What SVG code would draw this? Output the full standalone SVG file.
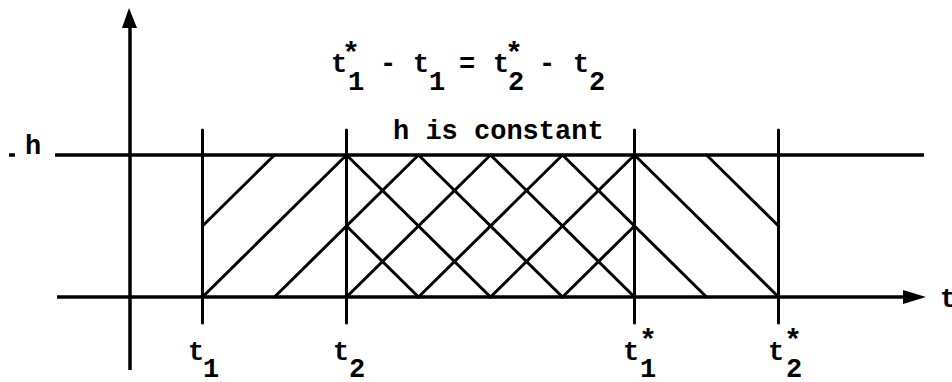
<svg xmlns="http://www.w3.org/2000/svg" width="952" height="382" viewBox="0 0 952 382">
<style>
.ln{stroke:#000;stroke-width:3;stroke-linecap:round;fill:none}
.ax{stroke:#000;stroke-width:3.5;fill:none}
.tx{font-family:"Liberation Mono","Courier New",monospace;font-size:27px;font-weight:bold;fill:#000}
.st{font-size:30px}
</style>
<rect width="952" height="382" fill="#fff"/>
<g id="axes">
<line class="ax" x1="130" y1="22" x2="130" y2="370"/>
<polygon points="129,8 122,28 137,28" fill="#000"/>
<line class="ax" x1="57" y1="297" x2="910" y2="297"/>
<polygon points="926,297 903,290 903,304" fill="#000"/>
<line class="ax" x1="55" y1="155" x2="924" y2="155"/>
<line class="ax" x1="9" y1="155" x2="15" y2="155"/>
</g>
<g id="verticals">
<line class="ln" x1="202.5" y1="130" x2="202.5" y2="323"/>
<line class="ln" x1="346.5" y1="130" x2="346.5" y2="323"/>
<line class="ln" x1="634.5" y1="130" x2="634.5" y2="323"/>
<line class="ln" x1="778.5" y1="130" x2="778.5" y2="323"/>
</g>
<g id="hatch-forward">
<line class="ln" x1="202.5" y1="226" x2="274.5" y2="155"/>
<line class="ln" x1="202.5" y1="297" x2="346.5" y2="155"/>
<line class="ln" x1="274.5" y1="297" x2="418.5" y2="155"/>
<line class="ln" x1="346.5" y1="297" x2="490.5" y2="155"/>
<line class="ln" x1="418.5" y1="297" x2="562.5" y2="155"/>
<line class="ln" x1="490.5" y1="297" x2="634.5" y2="155"/>
<line class="ln" x1="562.5" y1="297" x2="634.5" y2="226"/>
</g>
<g id="hatch-back">
<line class="ln" x1="346.5" y1="226" x2="418.5" y2="297"/>
<line class="ln" x1="346.5" y1="155" x2="490.5" y2="297"/>
<line class="ln" x1="418.5" y1="155" x2="562.5" y2="297"/>
<line class="ln" x1="490.5" y1="155" x2="634.5" y2="297"/>
<line class="ln" x1="562.5" y1="155" x2="706.5" y2="297"/>
<line class="ln" x1="634.5" y1="155" x2="778.5" y2="297"/>
<line class="ln" x1="706.5" y1="155" x2="778.5" y2="226"/>
</g>
<g id="equation" class="tx">
<text x="331" y="72">t</text><text class="st" x="342" y="63">*</text><text x="348" y="90">1</text>
<text x="380" y="72">-</text>
<text x="413" y="72">t</text><text x="429" y="90">1</text>
<text x="459" y="72">=</text>
<text x="493" y="72">t</text><text class="st" x="505" y="63">*</text><text x="508" y="90">2</text>
<text x="539" y="72">-</text>
<text x="573" y="72">t</text><text x="589" y="90">2</text>
</g>
<g id="note" class="tx"><text x="393" y="139">h is constant</text></g>
<g id="h-label" class="tx"><text x="25" y="154">h</text></g>
<g id="t-label" class="tx"><text x="940" y="307">t</text></g>
<g id="t1-label" class="tx"><text x="188" y="360">t</text><text x="203" y="377">1</text></g>
<g id="t2-label" class="tx"><text x="333" y="360">t</text><text x="349" y="377">2</text></g>
<g id="t1s-label" class="tx"><text x="623" y="360">t</text><text class="st" x="639" y="350">*</text><text x="640" y="377">1</text></g>
<g id="t2s-label" class="tx"><text x="768" y="360">t</text><text class="st" x="784" y="350">*</text><text x="786" y="377">2</text></g>
</svg>
